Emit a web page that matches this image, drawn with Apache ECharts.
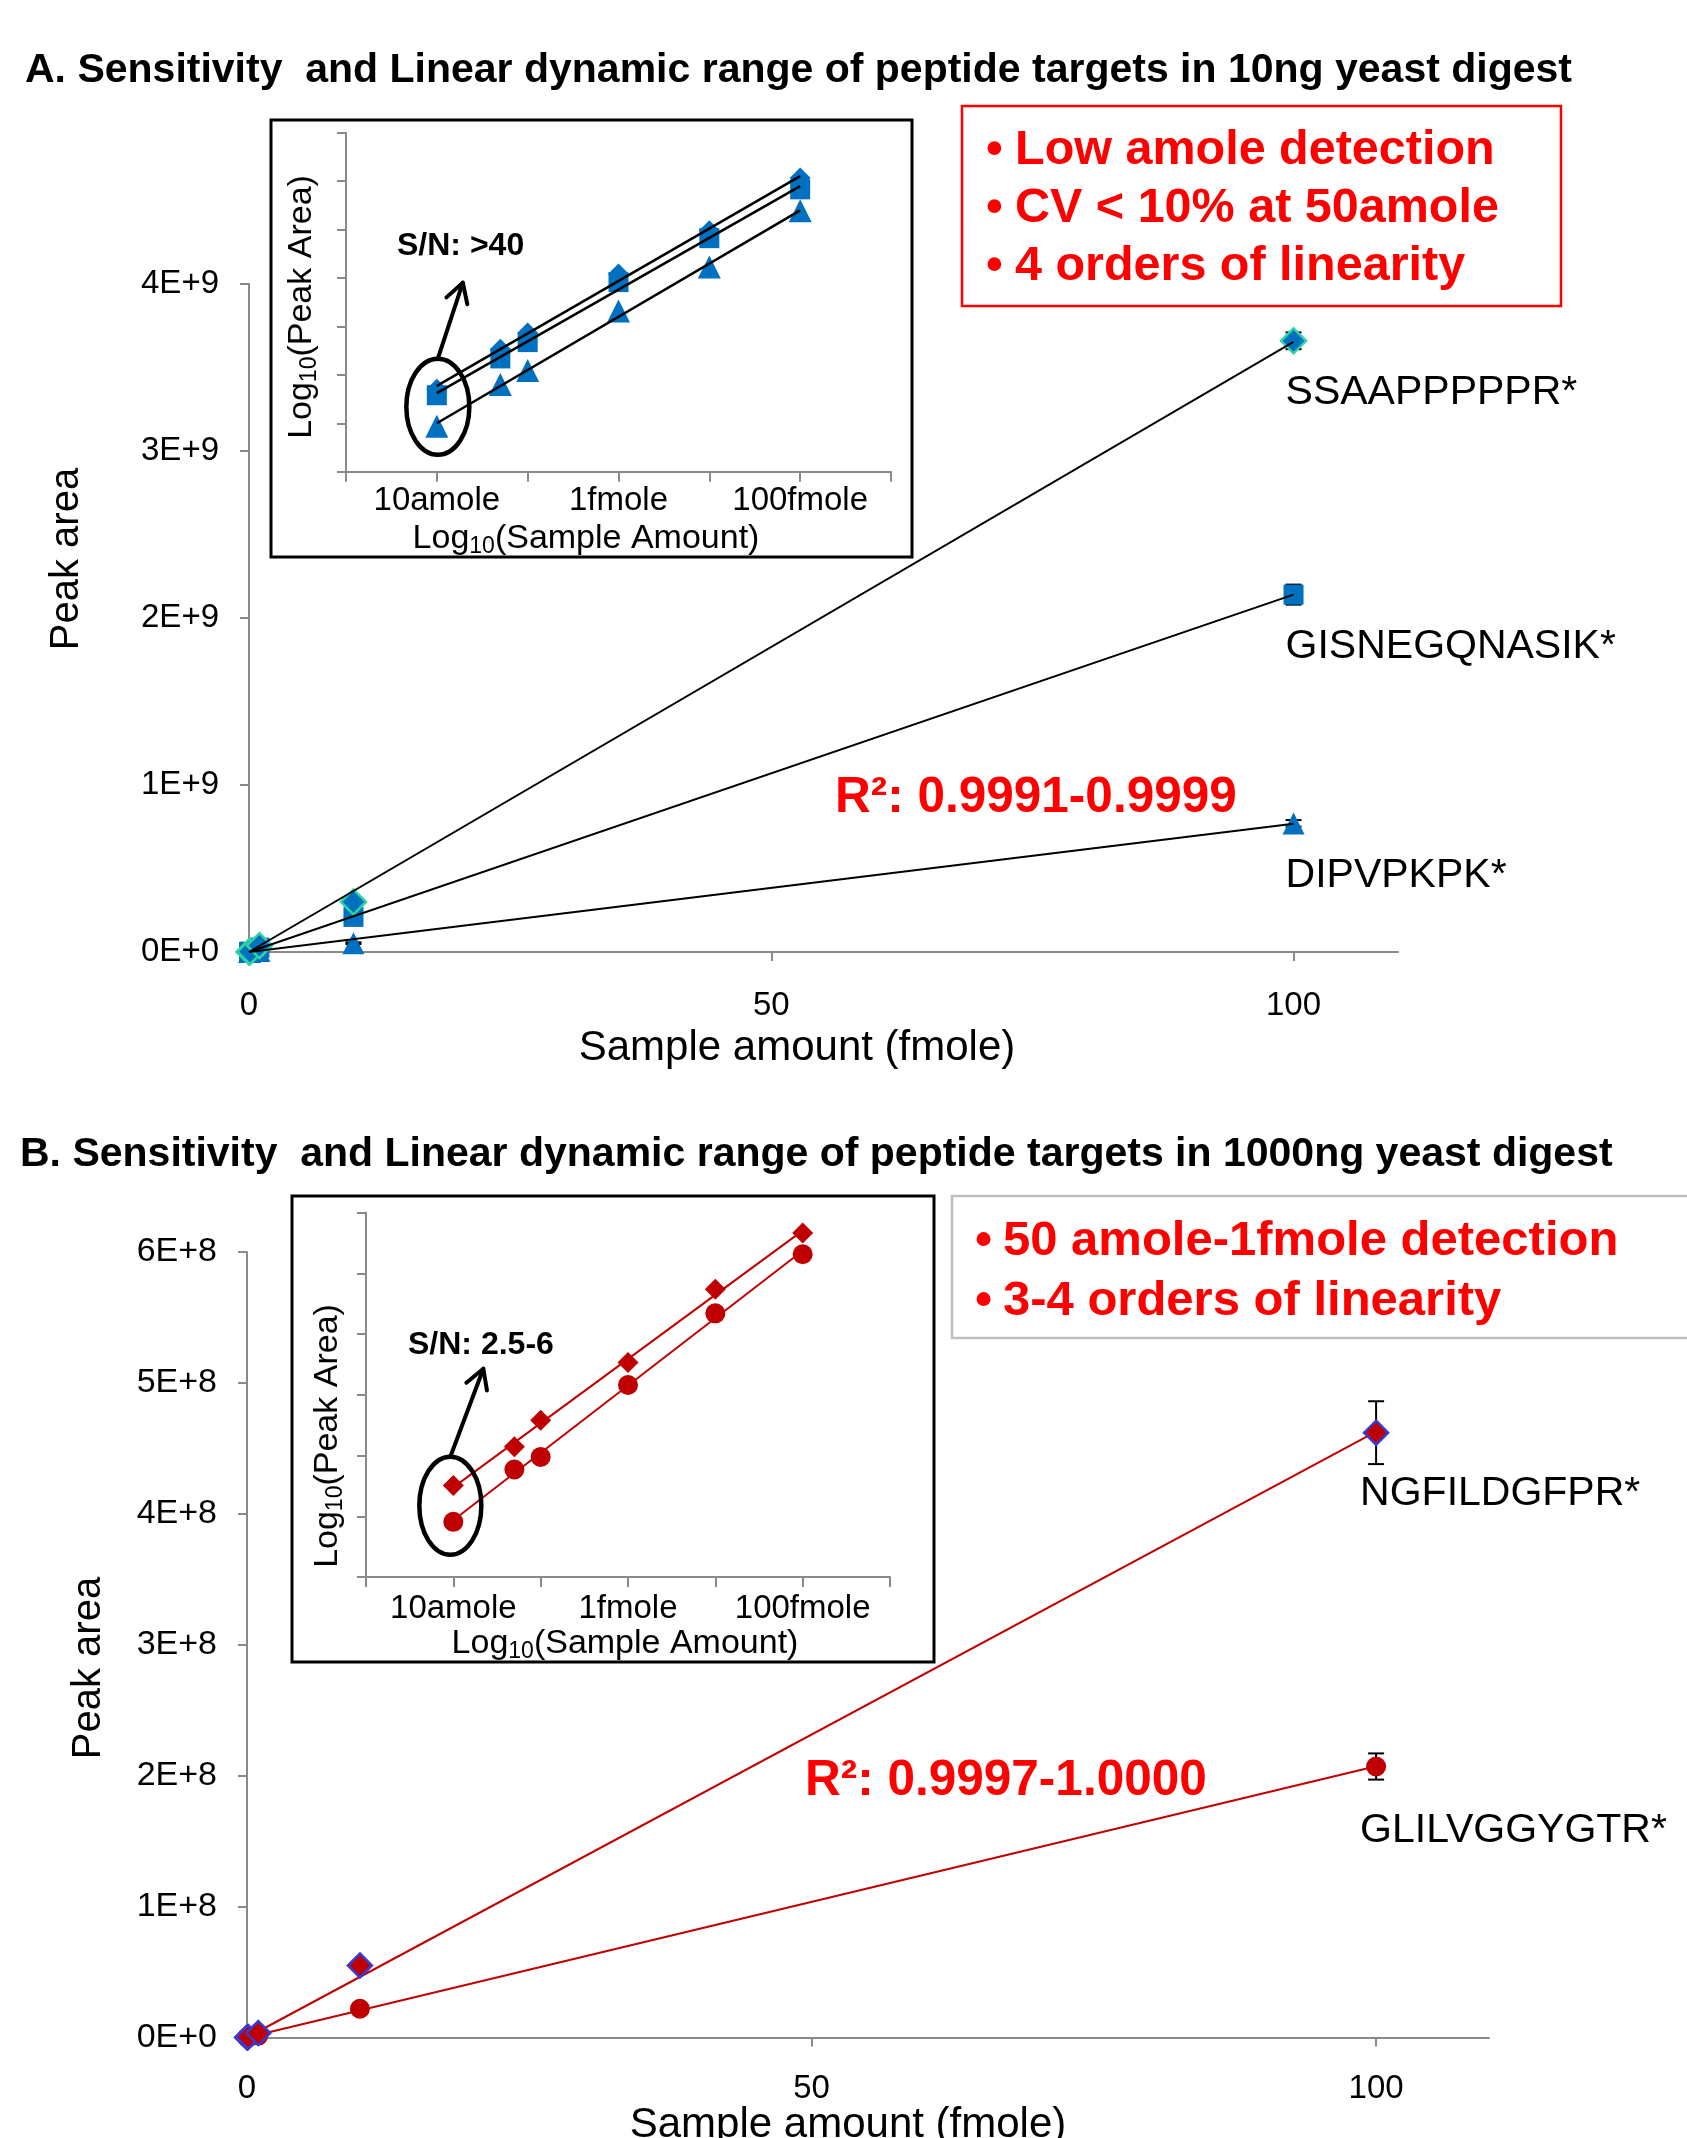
<!DOCTYPE html>
<html><head><meta charset="utf-8">
<script src="https://cdn.jsdelivr.net/npm/echarts@6/dist/echarts.min.js"></script>
<style>html,body{margin:0;padding:0;background:#fff}#c{width:1687px;height:2138px}</style>
</head><body><div id="c"></div>
<script>
// ================= DATA =================
const amounts = [0.01, 0.05, 0.1, 1, 10, 100]; // sample amount, fmole

// Panel A: 10 ng yeast digest (peak areas)
const peptidesA = ['SSAAPPPPPR*', 'GISNEGQNASIK*', 'DIPVPKPK*'];
const areaA_SSAAP = [1.6e5, 1.07e6, 2.3e6, 3.8e7, 3.0e8, 3.66e9];
const areaA_GISNE = [1.2e5, 6.9e5, 1.5e6, 2.6e7, 2.1e8, 2.14e9];
const areaA_DIPV  = [2.75e4, 2.0e5, 3.9e5, 6.6e6, 5.3e7, 7.7e8];
const errA_SSAAP = [0, 0, 0, 0, 1.0e7, 5.0e7];
const errA_GISNE = [0, 0, 0, 0, 1.0e7, 6.0e7];
const errA_DIPV  = [0, 0, 0, 0, 5.0e6, 2.0e7];

// Panel B: 1000 ng yeast digest (peak areas)
const peptidesB = ['NGFILDGFPR*', 'GLILVGGYGTR*'];
const areaB_NGFIL = [3.2e4, 1.4e5, 3.8e5, 3.4e6, 5.5e7, 4.62e8];
const areaB_GLIL  = [8.1e3, 5.9e4, 9.5e4, 1.45e6, 2.2e7, 2.07e8];
const errB_NGFIL = [0, 0, 0, 0, 2.0e6, 2.4e7];
const errB_GLIL  = [0, 0, 0, 0, 1.0e6, 1.0e7];

// Tick labels
const yTickLabelsA = ['0E+0', '1E+9', '2E+9', '3E+9', '4E+9'];
const yTickLabelsB = ['0E+0', '1E+8', '2E+8', '3E+8', '4E+8', '5E+8', '6E+8'];
const mainXTicks = [0, 50, 100];
const insetXTickLabels = {'-2': '10amole', '0': '1fmole', '2': '100fmole'};
const insetYTicksA = [3.5, 4.5, 5.5, 6.5, 7.5, 8.5, 9.5, 10.5];
const insetYTicksB = [3, 4, 5, 6, 7, 8, 9];

// Texts
const titleA = 'A. Sensitivity  and Linear dynamic range of peptide targets in 10ng yeast digest';
const titleB = 'B. Sensitivity  and Linear dynamic range of peptide targets in 1000ng yeast digest';
const bulletsA = ['Low amole detection', 'CV < 10% at 50amole', '4 orders of linearity'];
const bulletsB = ['50 amole-1fmole detection', '3-4 orders of linearity'];
const r2A = 'R²: 0.9991-0.9999';
const r2B = 'R²: 0.9997-1.0000';
const snA = 'S/N: >40';
const snB = 'S/N: 2.5-6';

// ================= HELPERS =================
const F = '"Liberation Sans", Arial, Helvetica, sans-serif';
const AX = {color: '#8a8a8a', width: 2};
const BLUE = '#0070C0', RED = '#C00000';

function slopeOrigin(xs, ys) { let sxy = 0, sxx = 0; xs.forEach((x, i) => { sxy += x * ys[i]; sxx += x * x; }); return sxy / sxx; }
function linFit(xs, ys) {
  const n = xs.length, mx = xs.reduce((a, b) => a + b) / n, my = ys.reduce((a, b) => a + b) / n;
  let sxy = 0, sxx = 0; xs.forEach((x, i) => { sxy += (x - mx) * (ys[i] - my); sxx += (x - mx) * (x - mx); });
  const b = sxy / sxx; return {a: my - b * mx, b};
}
const xMax = Math.max(...amounts);
const xLog = amounts.map(Math.log10);
const toPts = (xs, ys) => xs.map((x, i) => [x, ys[i]]);
function mainFitLine(ys) { const k = slopeOrigin(amounts, ys); return [[0, 0], [xMax, k * xMax]]; }
function logFitLine(ys) { const yl = ys.map(Math.log10); const f = linFit(xLog, yl); const x0 = Math.min(...xLog), x1 = Math.max(...xLog); return [[x0, f.a + f.b * x0], [x1, f.a + f.b * x1]]; }

function scatter(idx, data, symbol, size, color, border, z) {
  return {type: 'scatter', xAxisIndex: idx, yAxisIndex: idx, data, symbol, symbolSize: size, z,
    itemStyle: {color, borderColor: border || color, borderWidth: border ? 2.5 : 0, opacity: 1}, silent: true};
}
function fitLine(idx, data, color, width, z) {
  return {type: 'line', xAxisIndex: idx, yAxisIndex: idx, data, showSymbol: false, symbol: 'none', z,
    lineStyle: {color, width}, silent: true};
}
function errBars(idx, ys, es, z) {
  const data = amounts.map((x, i) => [x, ys[i] - es[i], ys[i] + es[i]]).filter(d => d[2] > d[1]);
  return {type: 'custom', xAxisIndex: idx, yAxisIndex: idx, data, z, silent: true,
    renderItem: (params, api) => {
      const lo = api.coord([api.value(0), api.value(1)]);
      const hi = api.coord([api.value(0), api.value(2)]);
      const w = 8, st = {stroke: '#000', lineWidth: 2};
      return {type: 'group', children: [
        {type: 'line', shape: {x1: lo[0], y1: lo[1], x2: hi[0], y2: hi[1]}, style: st},
        {type: 'line', shape: {x1: lo[0] - w, y1: lo[1], x2: lo[0] + w, y2: lo[1]}, style: st},
        {type: 'line', shape: {x1: hi[0] - w, y1: hi[1], x2: hi[0] + w, y2: hi[1]}, style: st}
      ]};
    }};
}
function mainX(idx, margin) {
  return {gridIndex: idx, type: 'value', min: 0, max: 110, interval: 50,
    axisLine: {show: true, onZero: false, lineStyle: AX},
    axisTick: {show: true, length: 9, lineStyle: AX, customValues: mainXTicks},
    axisLabel: {show: true, customValues: mainXTicks, margin, fontSize: 33, fontFamily: F, color: '#000', formatter: v => String(v)},
    splitLine: {show: false}};
}
function mainY(idx, max, step, labels, size) {
  return {gridIndex: idx, type: 'value', min: 0, max, interval: step,
    axisLine: {show: true, onZero: false, lineStyle: AX},
    axisTick: {show: true, length: 9, lineStyle: AX},
    axisLabel: {show: true, margin: 30, padding: [5, 0, 0, 0], fontSize: size, fontFamily: F, color: '#000', formatter: v => labels[Math.round(v / step)]},
    splitLine: {show: false}};
}
function insetX(idx, margin) {
  return {gridIndex: idx, type: 'value', min: -3, max: 3, interval: 1,
    axisLine: {show: true, onZero: false, lineStyle: AX},
    axisTick: {show: true, length: 10, lineStyle: AX},
    axisLabel: {show: true, margin, fontSize: 33, fontFamily: F, color: '#000', formatter: v => insetXTickLabels[String(Math.round(v))] || ''},
    splitLine: {show: false}};
}
function insetY(idx, ticks) {
  return {gridIndex: idx, type: 'value', min: ticks[0], max: ticks[ticks.length - 1], interval: 1,
    axisLine: {show: true, onZero: false, lineStyle: AX},
    axisTick: {show: true, length: 9, lineStyle: AX, customValues: ticks},
    axisLabel: {show: false, customValues: ticks},
    splitLine: {show: false}};
}
function text(id, x, y, t, size, o) {
  o = o || {};
  const dy = Math.round(size * 0.08);
  const rot = o.rot || 0;
  return {type: 'text', id, x: x + (rot ? dy : 0), y: y + (rot ? 0 : dy), rotation: rot, z: 50, silent: true,
    style: {text: t, font: (o.bold ? 'bold ' : '') + size + 'px ' + F, fill: o.color || '#000',
      align: o.align || 'left', verticalAlign: 'middle', textAlign: o.align || 'left', textVerticalAlign: 'middle'}};
}
function logText(id, x, y, rest, rot) {
  return {type: 'text', id, x, y, rotation: rot || 0, z: 50, silent: true,
    style: {text: '{n|Log}{s|10}{n|' + rest + '}', align: 'center', verticalAlign: 'middle', fill: '#000',
      rich: {n: {fontSize: 34, fontFamily: F, lineHeight: 38, fill: '#000', color: '#000'},
             s: {fontSize: 23, fontFamily: F, lineHeight: 17, verticalAlign: 'bottom', fill: '#000', color: '#000'}}}};
}

// ================= CHART =================
const chart = echarts.init(document.getElementById('c'), null, {renderer: 'canvas', width: 1687, height: 2138});

const staticGraphics = [
  text('tA', 25, 68, titleA, 41, {bold: true}),
  text('tB', 20, 1152, titleB, 41, {bold: true}),
  {type: 'rect', id: 'boxA', z: 40, silent: true, shape: {x: 962, y: 106, width: 599, height: 200}, style: {fill: null, stroke: '#FF0000', lineWidth: 2.5}},
  {type: 'rect', id: 'boxB', z: 40, silent: true, shape: {x: 952, y: 1196, width: 760, height: 142}, style: {fill: null, stroke: '#BFBFBF', lineWidth: 2.5}},
  {type: 'rect', id: 'inA', z: 40, silent: true, shape: {x: 271, y: 120, width: 641, height: 437}, style: {fill: null, stroke: '#000', lineWidth: 3}},
  {type: 'rect', id: 'inB', z: 40, silent: true, shape: {x: 292, y: 1196, width: 642, height: 466}, style: {fill: null, stroke: '#000', lineWidth: 3}},
  ...bulletsA.map((s, i) => text('bAd' + i, 986, 147 + 58 * i, '•', 48, {bold: true, color: '#FF0000'})),
  ...bulletsA.map((s, i) => text('bA' + i, 1015, 147 + 58 * i, s, 48.5, {bold: true, color: '#FF0000'})),
  ...bulletsB.map((s, i) => text('bBd' + i, 975, 1237 + 60 * i, '•', 49, {bold: true, color: '#FF0000'})),
  ...bulletsB.map((s, i) => text('bB' + i, 1003, 1237 + 60 * i, s, 49, {bold: true, color: '#FF0000'})),
  text('r2A', 835, 794, r2A, 49.5, {bold: true, color: '#FF0000'}),
  text('r2B', 805, 1777, r2B, 49.5, {bold: true, color: '#FF0000'}),
  text('snA', 397, 243, snA, 32, {bold: true}),
  text('snB', 408, 1342, snB, 32, {bold: true}),
  text('yA', 64, 559, 'Peak area', 40, {align: 'center', rot: Math.PI / 2}),
  text('xA', 797, 1045, 'Sample amount (fmole)', 42, {align: 'center'}),
  text('yB', 86, 1668, 'Peak area', 40, {align: 'center', rot: Math.PI / 2}),
  text('xB', 848, 2122, 'Sample amount (fmole)', 42, {align: 'center'}),
  logText('ixA', 586, 539, '(Sample Amount)'),
  logText('iyA', 302, 307, '(Peak Area)', Math.PI / 2),
  logText('ixB', 625, 1644, '(Sample Amount)'),
  logText('iyB', 328, 1436, '(Peak Area)', Math.PI / 2)
];

const option = {
  animation: false,
  backgroundColor: '#fff',
  grid: [
    {left: 249, top: 284, width: 1149, height: 668, outerBoundsMode: 'none', containLabel: false},
    {left: 346, top: 132.7, width: 545, height: 339, outerBoundsMode: 'none', containLabel: false},
    {left: 247, top: 1252, width: 1242, height: 785.5, outerBoundsMode: 'none', containLabel: false},
    {left: 366, top: 1212.7, width: 524, height: 364.3, outerBoundsMode: 'none', containLabel: false}
  ],
  xAxis: [mainX(0, 37), insetX(1, 13), mainX(2, 35), insetX(3, 15)],
  yAxis: [mainY(0, 4e9, 1e9, yTickLabelsA, 33), insetY(1, insetYTicksA), mainY(2, 6e8, 1e8, yTickLabelsB, 34), insetY(3, insetYTicksB)],
  series: [
    // A main
    errBars(0, areaA_SSAAP, errA_SSAAP, 1),
    errBars(0, areaA_GISNE, errA_GISNE, 1),
    errBars(0, areaA_DIPV, errA_DIPV, 1),
    scatter(0, toPts(amounts, areaA_DIPV), 'triangle', 22, BLUE, null, 2),
    scatter(0, toPts(amounts, areaA_GISNE), 'rect', 20, BLUE, null, 2),
    scatter(0, toPts(amounts, areaA_SSAAP), 'diamond', 25, BLUE, '#2FD3A3', 2),
    fitLine(0, mainFitLine(areaA_SSAAP), '#000', 2, 3),
    fitLine(0, mainFitLine(areaA_GISNE), '#000', 2, 3),
    fitLine(0, mainFitLine(areaA_DIPV), '#000', 2, 3),
    // A inset
    scatter(1, toPts(xLog, areaA_DIPV.map(Math.log10)), 'triangle', 23, BLUE, null, 2),
    scatter(1, toPts(xLog, areaA_GISNE.map(Math.log10)), 'rect', 20, BLUE, null, 2),
    scatter(1, toPts(xLog, areaA_SSAAP.map(Math.log10)), 'diamond', 21, BLUE, null, 2),
    fitLine(1, logFitLine(areaA_SSAAP), '#000', 2.5, 3),
    fitLine(1, logFitLine(areaA_GISNE), '#000', 2.5, 3),
    fitLine(1, logFitLine(areaA_DIPV), '#000', 2.5, 3),
    // B main
    errBars(2, areaB_NGFIL, errB_NGFIL, 1),
    errBars(2, areaB_GLIL, errB_GLIL, 1),
    fitLine(2, mainFitLine(areaB_NGFIL), RED, 2, 2),
    fitLine(2, mainFitLine(areaB_GLIL), RED, 2, 2),
    scatter(2, toPts(amounts, areaB_GLIL), 'circle', 20, RED, null, 3),
    scatter(2, toPts(amounts, areaB_NGFIL), 'diamond', 24, RED, '#3A3AD0', 3),
    // B inset
    fitLine(3, logFitLine(areaB_NGFIL), RED, 2, 2),
    fitLine(3, logFitLine(areaB_GLIL), RED, 2, 2),
    scatter(3, toPts(xLog, areaB_GLIL.map(Math.log10)), 'circle', 20, RED, null, 3),
    scatter(3, toPts(xLog, areaB_NGFIL.map(Math.log10)), 'diamond', 21, RED, null, 3)
  ],
  graphic: staticGraphics
};
chart.setOption(option);

// ---- annotations anchored to data ----
const dyn = [];
const last = amounts.length - 1;
[[areaA_SSAAP, 0], [areaA_GISNE, 1], [areaA_DIPV, 2]].forEach(([arr, i]) => {
  const p = chart.convertToPixel({gridIndex: 0}, [amounts[last], arr[last]]);
  dyn.push(text('pA' + i, p[0] - 8, p[1] + 49, peptidesA[i], 41));
});
[[areaB_NGFIL, 0], [areaB_GLIL, 1]].forEach(([arr, i]) => {
  const p = chart.convertToPixel({gridIndex: 2}, [amounts[last], arr[last]]);
  dyn.push(text('pB' + i, p[0] - 16, p[1] + 58 + 3 * i, peptidesB[i], 41));
});
function circleArrow(id, grid, hiArr, loArr, dx, dy, rx, ry, tdx, tdy) {
  const a = chart.convertToPixel({gridIndex: grid}, [xLog[0], Math.log10(hiArr[0])]);
  const b = chart.convertToPixel({gridIndex: grid}, [xLog[0], Math.log10(loArr[0])]);
  const cx = a[0] + dx, cy = (a[1] + b[1]) / 2 + dy;
  const sx = cx, sy = cy - ry;
  const tx = sx + tdx, ty = sy + tdy;
  const L = Math.hypot(tdx, tdy), ux = -tdx / L, uy = -tdy / L;
  const h = 22, c = Math.cos(Math.PI / 6), s = Math.sin(Math.PI / 6);
  const a1 = [tx + h * (ux * c - uy * s), ty + h * (ux * s + uy * c)];
  const a2 = [tx + h * (ux * c + uy * s), ty + h * (-ux * s + uy * c)];
  const st = {stroke: '#000', lineWidth: 4, fill: null, lineCap: 'round', lineJoin: 'round'};
  dyn.push({type: 'ellipse', id: id + 'e', z: 45, silent: true, shape: {cx, cy, rx, ry}, style: {fill: null, stroke: '#000', lineWidth: 4.5}});
  dyn.push({type: 'line', id: id + 'l', z: 45, silent: true, shape: {x1: sx, y1: sy, x2: tx, y2: ty}, style: st});
  dyn.push({type: 'polyline', id: id + 'h', z: 45, silent: true, shape: {points: [a1, [tx, ty], a2]}, style: st});
}
circleArrow('cA', 1, areaA_GISNE, areaA_DIPV, 1, -4, 31.5, 48, 25, -76);
circleArrow('cB', 3, areaB_NGFIL, areaB_GLIL, -3, 2, 31, 49, 33, -88);

chart.setOption({graphic: staticGraphics.concat(dyn)});
</script>
</body></html>
